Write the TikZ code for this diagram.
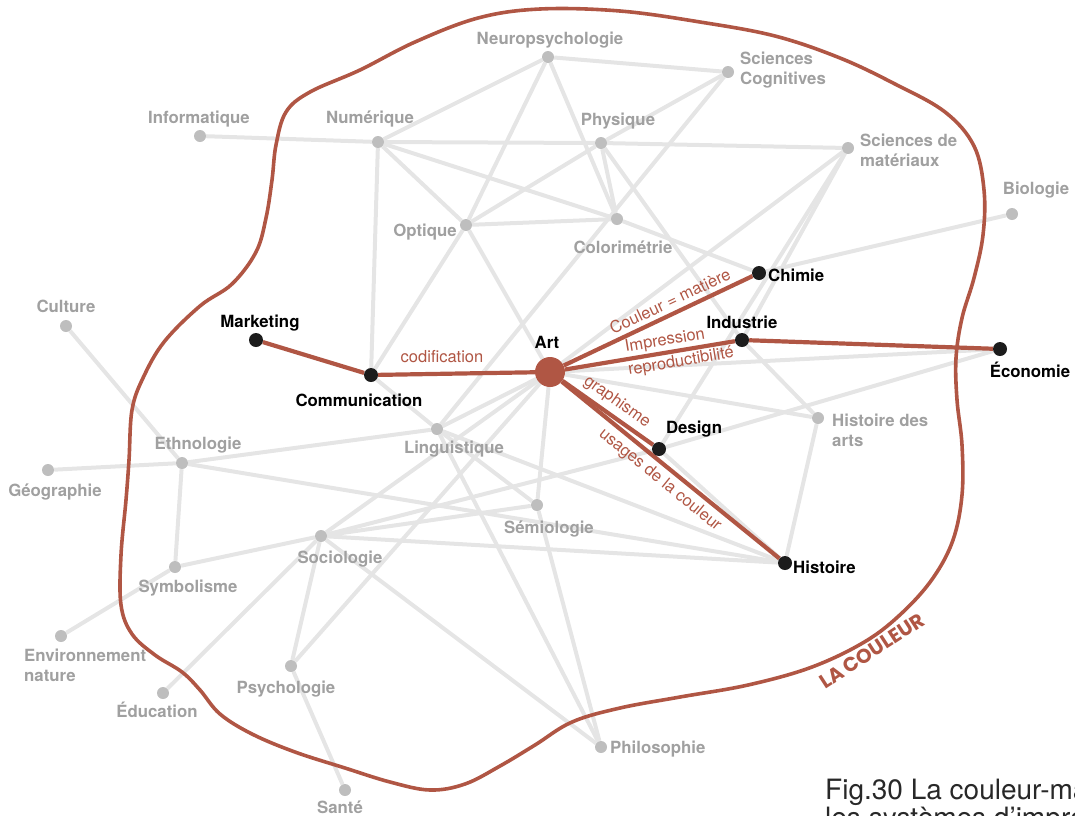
\documentclass[tikz,border=0pt]{standalone}
\usepackage{fontspec}
\setmainfont{TeX Gyre Heros}
\newfontfamily\handfont{Poppins}

\definecolor{brick}{RGB}{176,86,68}
\definecolor{edgegrey}{RGB}{229,229,229}
\definecolor{dotgrey}{RGB}{190,190,190}
\definecolor{labgrey}{RGB}{160,160,160}
\definecolor{dotblack}{RGB}{28,28,28}
\definecolor{capgrey}{RGB}{40,40,40}

\pgfdeclarelayer{greylayer}
\pgfdeclarelayer{redlayer}
\pgfsetlayers{greylayer,redlayer,main}

\begin{document}
\begin{tikzpicture}[x=1pt,y=-1pt,
  gdot/.style={circle,fill=dotgrey,inner sep=0pt,minimum size=12pt},
  bdot/.style={circle,fill=dotblack,inner sep=0pt,minimum size=14pt},
  artdot/.style={circle,fill=brick,inner sep=0pt,minimum size=30pt},
  lab/.style={inner sep=0pt,font=\fontsize{16.8}{20}\selectfont\bfseries},
  glab/.style={lab,text=labgrey},
  blab/.style={lab,text=black},
  multi/.style={align=left,anchor=west},
  rlab/.style={inner sep=0pt,text=brick,font=\fontsize{16.5}{19}\selectfont},
  gline/.style={draw=edgegrey,line width=4pt},
  rline/.style={draw=brick,line width=4.2pt},
  contour/.style={draw=brick,line width=3.6pt,line join=round},
]
\useasboundingbox (0,0) rectangle (1075,815);
\clip (0,0) rectangle (1075,815);

% ---- dots ----
\node[gdot] (neuro) at (548,57) {};
\node[gdot] (scog)  at (728,72) {};
\node[gdot] (info)  at (200,136) {};
\node[gdot] (num)   at (378,142) {};
\node[gdot] (phys)  at (601,143) {};
\node[gdot] (smat)  at (848,148) {};
\node[gdot] (bio)   at (1012,214) {};
\node[gdot] (opt)   at (466,225) {};
\node[gdot] (colo)  at (617,219) {};
\node[bdot] (chim)  at (759,273) {};
\node[gdot] (cult)  at (66,326) {};
\node[bdot] (mark)  at (256,340) {};
\node[bdot] (indu)  at (742,340) {};
\node[artdot] (art) at (550,372) {};
\node[bdot] (comm)  at (371,375) {};
\node[bdot] (eco)   at (1000,349) {};
\node[gdot] (hda)   at (818,418) {};
\node[bdot] (desi)  at (659,449) {};
\node[gdot] (ling)  at (437,429) {};
\node[gdot] (ethn)  at (182,463) {};
\node[gdot] (geo)   at (48,470) {};
\node[gdot] (semi)  at (537,505) {};
\node[gdot] (soci)  at (321,536) {};
\node[bdot] (hist)  at (785,563) {};
\node[gdot] (symb)  at (175,567) {};
\node[gdot] (env)   at (61,636) {};
\node[gdot] (psyc)  at (291,666) {};
\node[gdot] (educ)  at (163,693) {};
\node[gdot] (philo) at (601,747) {};
\node[gdot] (sante) at (345,790) {};

% ---- grey links ----
\begin{pgfonlayer}{greylayer}
\foreach \a/\b in {info/num, num/neuro, num/phys, phys/smat, num/opt, num/colo,
  num/comm, neuro/scog, neuro/opt, neuro/colo, phys/colo, phys/indu, phys/scog,
  phys/opt, scog/ling, opt/colo, opt/comm, opt/art, colo/chim, smat/art,
  smat/indu, smat/desi, bio/chim, indu/hda, art/eco, art/hda, desi/eco,
  desi/hist, soci/desi, hda/hist, cult/ethn, ethn/geo, ethn/ling,
  ethn/symb, ethn/hist, symb/env, symb/soci, soci/educ, soci/psyc, soci/hist,
  soci/philo, soci/semi, comm/ling, ling/semi, ling/philo, ling/hist,
  semi/philo, art/ling, art/soci, art/psyc, art/semi, psyc/sante}
  \draw[gline] (\a) -- (\b);
\end{pgfonlayer}

% ---- red links ----
\begin{pgfonlayer}{redlayer}
\foreach \a/\b in {mark/comm, comm/art, art/chim, art/indu, indu/eco, art/desi, art/hist}
  \draw[rline] (\a) -- (\b);
\end{pgfonlayer}

% ---- labels ----
\node[glab,anchor=base] (l-neuro) at (550,44) {Neuropsychologie};
\node[glab,multi] (l-scog) at (740,70) {Sciences\\Cognitives};
\node[glab,anchor=base] (l-info) at (199,123) {Informatique};
\node[glab,anchor=base] (l-num) at (370,123) {Numérique};
\node[glab,anchor=base] (l-phys) at (618,125) {Physique};
\node[glab,multi] (l-smat) at (860,150) {Sciences de\\matériaux};
\node[glab,anchor=base] (l-bio) at (1036,194) {Biologie};
\node[glab,anchor=base east] (l-opt) at (457,236) {Optique};
\node[glab,anchor=base] (l-colo) at (623,253) {Colorimétrie};
\node[blab,anchor=base west] (l-chim) at (768,281) {Chimie};
\node[glab,anchor=base] (l-cult) at (66,312) {Culture};
\node[blab,anchor=base] (l-mark) at (260,327) {Marketing};
\node[blab,anchor=base] (l-indu) at (742,328) {Industrie};
\node[blab,anchor=base] (l-art) at (547,348) {Art};
\node[blab,anchor=base] (l-comm) at (359,406) {Communication};
\node[blab,anchor=base] (l-eco) at (1030,377) {Économie};
\node[glab,multi] (l-hda) at (832,430) {Histoire des\\arts};
\node[blab,anchor=base] (l-desi) at (694,433) {Design};
\node[glab,anchor=base] (l-ling) at (454,453) {Linguistique};
\node[glab,anchor=base] (l-ethn) at (198,449) {Ethnologie};
\node[glab,anchor=base] (l-geo) at (55,496) {Géographie};
\node[glab,anchor=base] (l-semi) at (549,533) {Sémiologie};
\node[glab,anchor=base] (l-soci) at (340,563) {Sociologie};
\node[blab,anchor=base west] (l-hist) at (793,573) {Histoire};
\node[glab,anchor=base] (l-symb) at (188,592) {Symbolisme};
\node[glab,multi] (l-env) at (24,665) {Environnement\\nature};
\node[glab,anchor=base] (l-psyc) at (286,693) {Psychologie};
\node[glab,anchor=base] (l-educ) at (157,717) {Éducation};
\node[glab,anchor=base west] (l-philo) at (610,753) {Philosophie};
\node[glab,anchor=base] (l-sante) at (340,813) {Santé};

% ---- link labels ----
\node[rlab] (t-codif) at (442,357) {codification};
\node[rlab,rotate=25.3] (t-coul) at (670,301) {Couleur = matière};
\node[rlab,rotate=9.5] (t-impr) at (665,341) {Impression};
\node[rlab,rotate=9.5] (t-repr) at (681,362) {reproductibilité};
\node[rlab,rotate=-35.2] (t-graph) at (617,402) {graphisme};
\node[rlab,rotate=-39.1] (t-usag) at (660,480) {usages de la couleur};

% ---- hand-drawn contour ----
\draw[contour] plot[smooth cycle, tension=0.6] coordinates {
  (540,9) (620,11) (700,22) (775,36) (840,58) (895,84) (945,112) (974,146)
  (984,190) (983,235) (974,278) (962,318) (956,358) (957,400) (962,445)
  (962,495) (953,540) (933,578) (903,612) (866,641) (812,667) (748,685)
  (680,697) (620,708) (572,722) (535,745) (500,766) (465,784) (430,790)
  (390,782) (345,768) (295,752) (252,734) (220,714) (200,690) (182,672)
  (155,655) (132,634) (121,605) (121,555) (126,500) (129,460) (132,410)
  (143,378) (164,342) (200,306) (232,284) (256,252) (266,218) (272,180)
  (276,145) (286,112) (310,92) (360,70) (415,42) (478,18)};
\node[text=brick,inner sep=0pt,rotate=33,
  font=\handfont\bfseries\fontsize{20}{24}\selectfont] (tag) at (872,651) {LA COULEUR};

% ---- caption ----
\node[anchor=base west,inner sep=0pt,text=capgrey,font=\fontsize{28}{31}\selectfont]
  (cap1) at (825,799) {Fig.30 La couleur-matière};
\node[anchor=base west,inner sep=0pt,text=capgrey,font=\fontsize{28}{31}\selectfont]
  (cap2) at (825,827) {les systèmes d'impression};
\end{tikzpicture}
\end{document}
